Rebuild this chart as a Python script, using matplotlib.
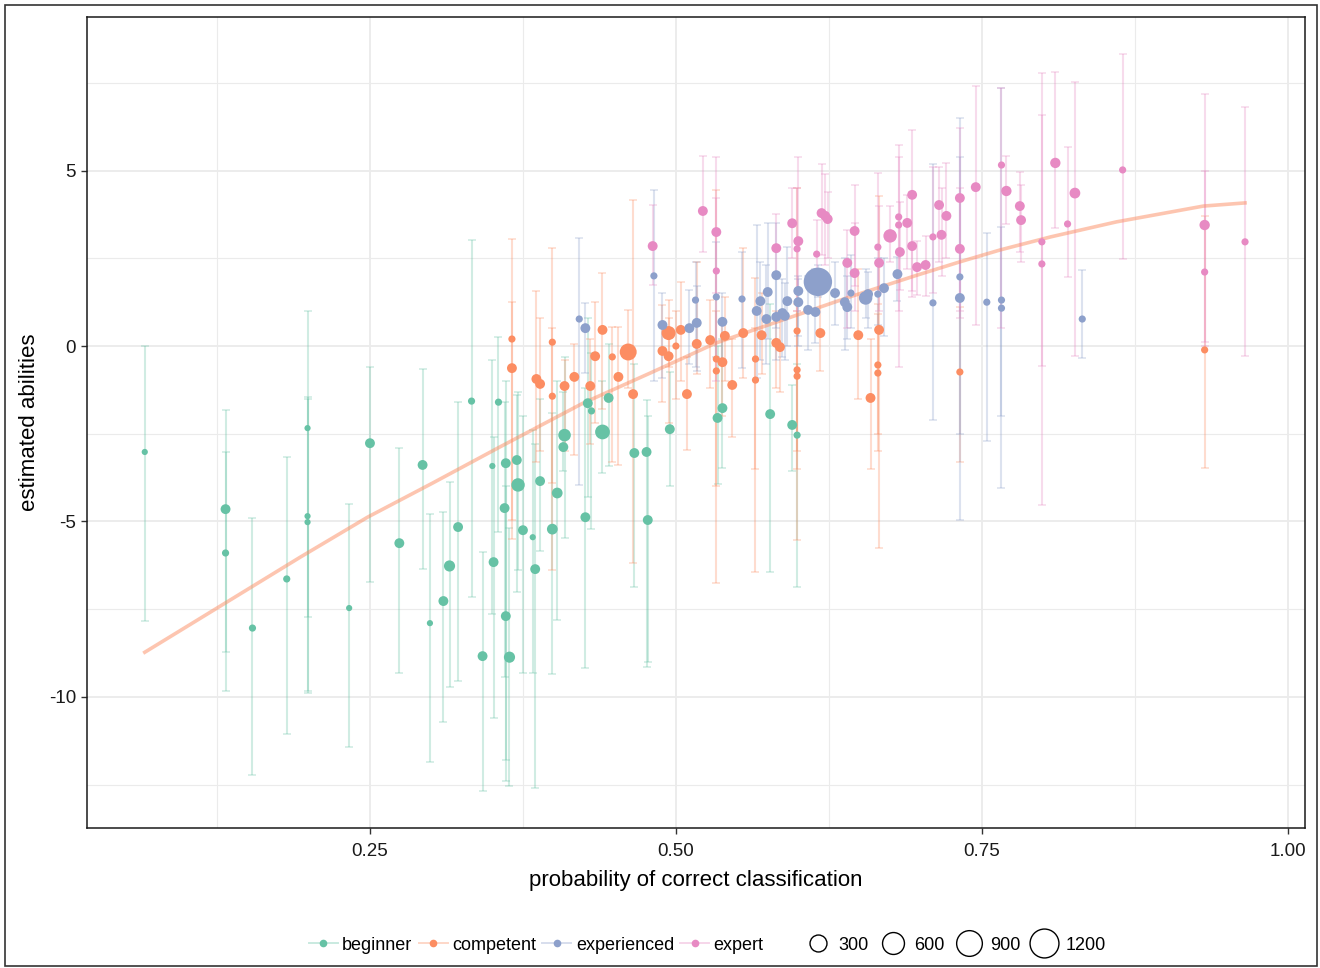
import matplotlib
matplotlib.use("Agg")
import matplotlib.pyplot as plt
import numpy as np
from matplotlib.lines import Line2D
from matplotlib.patches import Rectangle

plt.rcParams['font.family'] = ['Liberation Sans', 'DejaVu Sans']
plt.rcParams['axes.unicode_minus'] = False

# ---- data ----
# beginner
beg_prob = [0.066, 0.132, 0.132, 0.154, 0.182, 0.199, 0.199, 0.199, 0.233, 0.250,
            0.274, 0.293, 0.299, 0.310, 0.315, 0.322, 0.333, 0.342, 0.350, 0.351,
            0.355, 0.360, 0.361, 0.361, 0.364, 0.370, 0.371, 0.375, 0.383, 0.385,
            0.389, 0.399, 0.403, 0.408, 0.409, 0.426, 0.428, 0.431, 0.440, 0.445,
            0.466, 0.476, 0.477, 0.495, 0.534, 0.538, 0.577, 0.595, 0.599]
beg_est = [-3.02, -4.65, -5.90, -8.04, -6.64, -2.34, -4.85, -5.02, -7.47, -2.77,
           -5.62, -3.39, -7.90, -7.27, -6.27, -5.16, -1.57, -8.84, -3.42, -6.16,
           -1.60, -4.62, -3.34, -7.70, -8.87, -3.25, -3.96, -5.25, -5.45, -6.36,
           -3.85, -5.22, -4.19, -2.88, -2.54, -4.88, -1.63, -1.85, -2.45, -1.48,
           -3.05, -3.02, -4.96, -2.37, -2.05, -1.77, -1.94, -2.25, -2.54]
beg_lo = [-7.84, -8.73, -9.84, -12.23, -11.06, -7.73, -9.84, -9.89, -11.43, -6.73,
          -9.32, -6.36, -11.86, -10.72, -9.72, -9.55, -7.16, -12.69, -7.64, -10.61,
          -5.30, -9.44, -11.80, -12.40, -12.55, -7.00, -6.39, -9.32, -9.32, -12.60,
          -5.85, -9.35, -7.81, -3.56, -5.47, -9.18, -4.31, -5.22, -3.62, -3.42,
          -6.87, -9.15, -9.00, -4.00, -3.93, -3.48, -6.44, -3.56, -6.87]
beg_hi = [0.00, -1.83, -3.02, -4.90, -3.17, 1.00, -1.45, -1.50, -4.50, -0.60,
          -2.91, -0.66, -4.79, -4.73, -3.88, -1.60, 3.02, -5.87, -0.40, -2.60,
          0.26, -1.60, -1.00, -4.00, -5.20, -1.40, -1.30, -2.00, -2.40, -2.80,
          -1.50, -1.90, -1.00, -1.30, -0.30, -1.20, 0.80, -0.20, -1.00, 0.06,
          -0.50, -1.54, -2.00, -0.74, 0.00, 0.20, 1.20, -1.10, -0.50]
beg_n = [3, 50, 10, 10, 10, 3, 3, 3, 3, 50,
         50, 50, 3, 50, 80, 50, 10, 50, 3, 50,
         10, 50, 50, 50, 80, 50, 150, 50, 3, 50,
         50, 70, 70, 50, 120, 50, 50, 10, 200, 50,
         50, 50, 50, 50, 50, 50, 50, 50, 10]

# competent
com_prob = [0.366, 0.366, 0.386, 0.389, 0.399, 0.399, 0.409, 0.417, 0.430, 0.434,
            0.440, 0.448, 0.453, 0.461, 0.465, 0.489, 0.494, 0.494, 0.500, 0.504,
            0.509, 0.517, 0.528, 0.533, 0.533, 0.538, 0.540, 0.546, 0.555, 0.565,
            0.565, 0.570, 0.582, 0.585, 0.599, 0.599, 0.599, 0.618, 0.649, 0.659,
            0.666, 0.665, 0.665, 0.732, 0.932]
com_est = [0.20, -0.63, -0.94, -1.08, 0.11, -1.43, -1.14, -0.88, -1.14, -0.29,
           0.46, -0.31, -0.88, -0.17, -1.37, -0.14, 0.37, -0.29, 0.00, 0.46,
           -1.37, 0.06, 0.17, -0.37, -0.71, -0.46, 0.29, -1.11, 0.37, -0.37,
           -0.97, 0.31, 0.09, -0.03, 0.43, -0.68, -0.86, 0.37, 0.31, -1.48,
           0.46, -0.54, -0.77, -0.74, -0.11]
com_lo = [-4.96, -5.50, -3.30, -3.00, -6.39, -3.90, -3.00, -3.10, -2.80, -2.20,
          -1.80, -3.30, -3.40, -1.20, -6.19, -1.60, -0.60, -2.20, -1.50, -1.00,
          -2.97, -0.80, -1.20, -6.76, -4.00, -2.00, -1.00, -2.60, -0.90, -6.44,
          -3.50, -0.80, -1.20, -1.30, -5.53, -3.00, -3.50, -0.70, -1.50, -3.50,
          -5.76, -2.50, -3.00, -3.30, -3.48]
com_hi = [3.05, 1.25, 1.57, 0.80, 2.80, 0.50, -0.40, 0.06, 0.20, 1.25,
          2.08, 0.54, 0.54, 1.03, 4.16, 1.17, 1.30, 0.80, 1.00, 1.83,
          -0.30, 2.40, 1.30, 4.45, 1.00, 0.70, 1.40, 0.20, 2.80, 1.94,
          0.50, 1.50, 1.00, 0.90, 4.50, 1.20, 1.00, 1.90, 2.20, 0.20,
          4.28, 1.20, 0.90, 1.10, 3.70]
com_n = [10, 50, 50, 50, 10, 10, 50, 50, 50, 50,
         50, 10, 50, 300, 50, 50, 170, 50, 10, 50,
         50, 50, 50, 10, 10, 50, 50, 50, 50, 10,
         10, 50, 50, 50, 10, 10, 10, 50, 50, 50,
         50, 10, 10, 10, 10]

# experienced
exp_prob = [0.421, 0.426, 0.482, 0.489, 0.511, 0.516, 0.517, 0.533, 0.538, 0.554,
            0.566, 0.569, 0.574, 0.575, 0.582, 0.582, 0.587, 0.589, 0.591, 0.600,
            0.600, 0.608, 0.614, 0.616, 0.630, 0.638, 0.640, 0.643, 0.655, 0.657,
            0.665, 0.670, 0.681, 0.710, 0.732, 0.732, 0.754, 0.766, 0.766, 0.832]
exp_est = [0.77, 0.51, 2.00, 0.60, 0.51, 1.31, 0.66, 1.40, 0.69, 1.34,
           1.00, 1.28, 0.77, 1.54, 2.02, 0.83, 0.94, 0.86, 1.28, 1.57,
           1.25, 1.03, 0.97, 1.83, 1.51, 1.25, 1.11, 1.51, 1.37, 1.48,
           1.48, 1.65, 2.05, 1.23, 1.97, 1.37, 1.25, 1.31, 1.08, 0.77]
exp_lo = [-3.96, -0.77, -1.00, -0.90, -0.50, -0.60, -0.70, -0.30, -0.50, -0.63,
          -0.90, -0.40, -0.50, 0.20, 0.50, -0.40, -0.30, -0.40, 0.00, 0.30,
          0.00, -0.10, 0.10, 1.40, 0.60, -0.10, 0.20, 0.50, 0.80, 0.50,
          0.60, 0.30, 1.28, -2.10, -4.96, -2.50, -2.70, -4.05, -2.00, -0.34]
exp_hi = [3.08, 1.23, 4.45, 1.50, 1.60, 2.40, 1.70, 2.97, 1.50, 2.68,
          3.45, 2.40, 2.30, 3.50, 3.50, 2.00, 1.90, 1.80, 2.82, 2.00,
          1.90, 2.00, 2.20, 2.30, 2.40, 2.50, 2.00, 2.60, 2.20, 2.10,
          2.50, 2.50, 2.54, 5.20, 6.50, 5.40, 3.22, 7.36, 3.40, 2.17]
exp_n = [10, 50, 10, 50, 50, 10, 50, 10, 50, 10,
         50, 50, 50, 50, 50, 50, 50, 50, 50, 50,
         50, 50, 50, 1150, 50, 50, 50, 10, 150, 50,
         10, 50, 50, 10, 10, 50, 10, 10, 10, 10]

# expert
ext_prob = [0.481, 0.522, 0.533, 0.533, 0.582, 0.595, 0.600, 0.599, 0.615, 0.619,
            0.622, 0.624, 0.640, 0.646, 0.646, 0.665, 0.666, 0.675, 0.682, 0.682,
            0.683, 0.689, 0.693, 0.693, 0.697, 0.704, 0.710, 0.715, 0.717, 0.721,
            0.732, 0.732, 0.745, 0.766, 0.770, 0.781, 0.782, 0.799, 0.799, 0.810,
            0.820, 0.826, 0.865, 0.932, 0.932, 0.965]
ext_est = [2.85, 3.85, 3.25, 2.14, 2.79, 3.50, 2.99, 2.77, 2.62, 3.79,
           3.71, 3.62, 2.37, 3.28, 2.08, 2.82, 2.37, 3.14, 3.68, 3.45,
           2.68, 3.51, 4.31, 2.85, 2.25, 2.31, 3.11, 4.02, 3.17, 3.71,
           4.22, 2.77, 4.53, 5.16, 4.42, 3.99, 3.59, 2.97, 2.34, 5.22,
           3.48, 4.36, 5.02, 3.45, 2.11, 2.97]
ext_lo = [1.74, 2.68, 1.50, -1.00, 2.08, 2.50, 1.50, 1.00, 1.80, 2.60,
          2.30, 2.50, 0.50, 1.70, 1.00, 1.50, 1.00, 2.40, -0.60, 1.00,
          1.60, 2.20, 1.57, 1.40, 1.45, 1.43, 1.50, 2.40, 2.00, 2.51,
          1.00, 0.80, 0.60, 0.50, 3.48, 2.68, 2.40, -0.57, -4.53, 3.36,
          1.97, -0.29, 2.48, 0.11, 0.00, -0.29]
ext_hi = [4.02, 5.42, 4.22, 5.40, 3.76, 4.50, 5.40, 4.50, 3.60, 5.20,
          4.90, 4.40, 3.30, 4.60, 3.50, 4.93, 4.00, 4.00, 5.73, 5.40,
          4.10, 4.30, 6.16, 4.40, 3.00, 3.14, 5.10, 5.10, 4.50, 5.22,
          6.22, 4.50, 7.41, 7.36, 5.42, 4.96, 4.60, 7.78, 6.60, 7.81,
          5.67, 7.53, 8.33, 7.19, 5.00, 6.82]
ext_n = [50, 50, 50, 10, 50, 50, 50, 10, 10, 50,
         50, 50, 50, 50, 50, 10, 50, 150, 10, 10,
         50, 50, 50, 50, 50, 50, 10, 50, 50, 50,
         50, 50, 50, 10, 60, 50, 50, 10, 10, 60,
         10, 70, 10, 60, 10, 10]

# fitted curve
fit_prob = [0.066, 0.193, 0.248, 0.301, 0.356, 0.424, 0.479, 0.533, 0.587,
            0.642, 0.697, 0.732, 0.765, 0.806, 0.860, 0.931, 0.965]
fit_est = [-8.73, -6.02, -4.88, -3.91, -2.88, -1.63, -0.77, 0.09, 0.74,
           1.40, 2.02, 2.40, 2.74, 3.11, 3.54, 3.99, 4.08]

groups = ['beginner', 'competent', 'experienced', 'expert']
colors = ['#66C2A5', '#FC8D62', '#8DA0CB', '#E78AC3']
size_breaks = [300, 600, 900, 1200]


def diam_px(n):
    return 5 + 0.69 * np.sqrt(np.asarray(n, dtype=float))


def area_pt(n):
    return (diam_px(n) * 0.72) ** 2


fig = plt.figure(figsize=(13.2, 9.68), dpi=100)
ax = fig.add_axes([87 / 1320, 1 - 828 / 968, (1305 - 87) / 1320, (828 - 17) / 968])

data = [
    (beg_prob, beg_est, beg_lo, beg_hi, beg_n),
    (com_prob, com_est, com_lo, com_hi, com_n),
    (exp_prob, exp_est, exp_lo, exp_hi, exp_n),
    (ext_prob, ext_est, ext_lo, ext_hi, ext_n),
]

for (px, est, lo, hi, n), c in zip(data, colors):
    px, est, lo, hi = map(np.asarray, (px, est, lo, hi))
    ax.errorbar(px, est, yerr=[est - lo, hi - est], fmt='none', ecolor=c,
                alpha=0.3, elinewidth=1.5, capsize=3, capthick=1.2, zorder=2)

ax.plot(fit_prob, fit_est, color='#FC8D62', alpha=0.5, lw=2.6, zorder=3)

for (px, est, lo, hi, n), c in zip(data, colors):
    ax.scatter(px, est, s=area_pt(n), color=c, edgecolors='none', zorder=4)

ax.set_xlim(0.0188, 1.014)
ax.set_ylim(-13.74, 9.38)
ax.set_xticks([0.25, 0.50, 0.75, 1.00])
ax.set_xticklabels(['0.25', '0.50', '0.75', '1.00'])
ax.set_yticks([5, 0, -5, -10])
ax.set_yticklabels(['5', '0', '-5', '-10'])
ax.set_xticks([0.125, 0.375, 0.625, 0.875], minor=True)
ax.set_yticks([7.5, 2.5, -2.5, -7.5, -12.5], minor=True)
ax.grid(True, which='major', color='#EBEBEB', lw=1.3, zorder=0)
ax.grid(True, which='minor', color='#EBEBEB', lw=0.8, zorder=0)
ax.set_axisbelow(True)
ax.tick_params(which='major', direction='out', length=4, width=1, color='#333333',
               labelsize=13.5, labelcolor='#1a1a1a')
ax.tick_params(axis='x', which='major', pad=7)
ax.tick_params(axis='y', which='major', pad=4)
ax.tick_params(which='minor', length=0)
for sp in ax.spines.values():
    sp.set_color('#1a1a1a')
    sp.set_linewidth(1.1)

ax.set_xlabel('probability of correct classification', fontsize=16, labelpad=7)
ax.set_ylabel('estimated abilities', fontsize=16, labelpad=6)

# legends
col_handles = []
for c in colors:
    ln = Line2D([0], [0], color=c, lw=1.4, alpha=0.35)
    mk = Line2D([0], [0], color=c, lw=0, marker='o', ms=5.5, mec='none')
    col_handles.append((ln, mk))
leg1 = fig.legend(col_handles, groups, loc='center right',
                  bbox_to_anchor=(780 / 1320, 1 - 945 / 968), ncol=4, frameon=False,
                  fontsize=13, handlelength=1.6, handletextpad=0.25, columnspacing=0.35)
size_handles = [Line2D([0], [0], lw=0, marker='o', ms=diam_px(b) * 0.72,
                       mfc='none', mec='black', mew=1.0) for b in size_breaks]
leg2 = fig.legend(size_handles, [str(b) for b in size_breaks], loc='center left',
                  bbox_to_anchor=(790 / 1320, 1 - 945 / 968), ncol=4, frameon=False,
                  fontsize=13, handlelength=1.3, handletextpad=0.5, columnspacing=0.7)

fig.patches.append(Rectangle((5 / 1320, 2 / 968), 1312 / 1320, 961 / 968,
                             transform=fig.transFigure, fill=False,
                             edgecolor='#333333', lw=1.2))

fig.savefig('out.png', dpi=100, facecolor='white')
